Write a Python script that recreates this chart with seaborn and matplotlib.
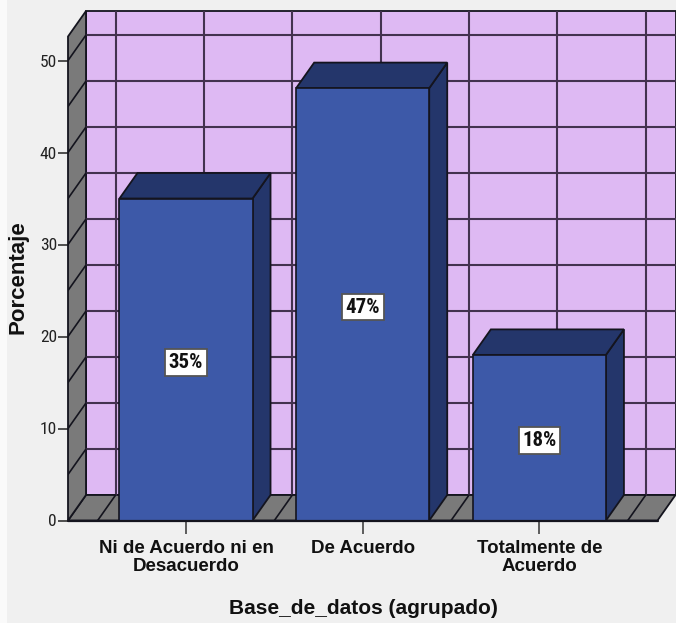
import matplotlib
matplotlib.use("Agg")
import matplotlib.pyplot as plt
from matplotlib.patches import Polygon, Rectangle
import numpy as np
import pandas as pd
import seaborn as sns

categories = ["Ni de Acuerdo ni en\nDesacuerdo", "De Acuerdo", "Totalmente de\nAcuerdo"]
percentages = [35, 47, 18]
value_labels = ["35%", "47%", "18%"]
y_ticks = [0, 10, 20, 30, 40, 50]

WIDTH, HEIGHT = 676, 623
BG = "#f0f0f0"
WALL = "#deb9f3"
GREY = "#7a7a7a"
FRONT = "#3d59a8"
DARK = "#24366b"
EDGE = "#14141e"
GRID = "#43324f"
NARROW = ["Roboto Condensed", "DejaVu Sans"]

sns.set_theme(style="white")
plt.rcParams["font.family"] = ["Liberation Sans", "DejaVu Sans"]

fig = plt.figure(figsize=(WIDTH / 100, HEIGHT / 100), dpi=100, facecolor=BG)
fig.add_artist(Rectangle((0, 0), 7 / WIDTH, 1, transform=fig.transFigure, fc="#fafafa", ec="none"))

# Axes frame in pixels: front-left corner to the far corner of the box
left, right, bottom, top = 68, 675.5, 520.5, 11
ax = fig.add_axes([left / WIDTH, 1 - bottom / HEIGHT, (right - left) / WIDTH, (bottom - top) / HEIGHT])
ax.set_facecolor("none")

df = pd.DataFrame({"grupo": categories, "pct": percentages})
sns.barplot(data=df, x="grupo", y="pct", order=categories, color=FRONT, saturation=1,
            width=0.753, edgecolor=EDGE, linewidth=1.2, ax=ax, zorder=4)

# Data scale: one category is 176.7 px, one percentage point 9.2 px
ax.set_xlim((left - 186) / 176.7, (right - 186) / 176.7)
ax.set_ylim(0, (bottom - top) / 9.2)
xmin, xmax = ax.get_xlim()
ymax = ax.get_ylim()[1]
dx, dy = 18 / 176.7, 25.5 / 9.2
front_right = xmax - dx

def face(points, color, z):
    ax.add_patch(Polygon(points, closed=True, fc=color, ec=EDGE, lw=1.3, zorder=z, clip_on=False))

face([(xmin + dx, dy), (xmax, dy), (xmax, ymax), (xmin + dx, ymax)], WALL, 1)
face([(xmin, 0), (front_right, 0), (xmax, dy), (xmin + dx, dy)], GREY, 1)
face([(xmin, 0), (xmin + dx, dy), (xmin + dx, ymax), (xmin, ymax - dy)], GREY, 1)

# Grid on the back wall, continued over the floor and the left side
for v in np.arange(5, 55, 5):
    ax.plot([xmin + dx, xmax], [v + dy, v + dy], color=GRID, lw=1.5, zorder=2)
    ax.plot([xmin, xmin + dx], [v, v + dy], color=EDGE, lw=1.2, zorder=2)
for c in np.arange(-0.5, 3.0, 0.5):
    ax.plot([c + dx, c + dx], [dy, ymax], color=GRID, lw=1.5, zorder=2)
    ax.plot([c, c + dx], [0, dy], color=EDGE, lw=1.2, zorder=2)

# Side and top faces built from each bar
for bar, value, text in zip(ax.patches, percentages, value_labels):
    x0, x1 = bar.get_x(), bar.get_x() + bar.get_width()
    h = bar.get_height()
    face([(x1, 0), (x1 + dx, dy), (x1 + dx, h + dy), (x1, h)], DARK, 3)
    face([(x0, h), (x1, h), (x1 + dx, h + dy), (x0 + dx, h + dy)], DARK, 3)
    ax.text((x0 + x1) / 2, value / 2 - 0.3, text, ha="center", va="center", fontsize=15,
            fontweight="bold", color="#111111", zorder=6, family=NARROW,
            bbox=dict(boxstyle="square,pad=0.18", fc="white", ec="#555555", lw=1.3))

ax.plot([xmin, front_right], [0, 0], color=EDGE, lw=1.6, zorder=5, clip_on=False)

for s in ax.spines.values():
    s.set_visible(False)
ax.set_yticks(y_ticks)
ax.tick_params(axis="y", left=True, length=7, width=1.1, color="#222222", pad=1,
               labelsize=12.5, labelcolor="#222222")
ax.tick_params(axis="x", bottom=True, length=9, width=1.1, color="#333333", pad=5)
for lab in ax.get_yticklabels():
    lab.set_family(NARROW)
for lab in ax.get_xticklabels():
    lab.set_fontsize(13.5)
    lab.set_fontweight("bold")
    lab.set_color("#111111")
    lab.set_linespacing(1.05)

ax.set_xlabel("Base_de_datos (agrupado)", fontsize=15, fontweight="bold", color="#111111")
ax.set_ylabel("Porcentaje", fontsize=16, fontweight="bold", color="#111111")
ax.xaxis.set_label_coords((363 - left) / (right - left), -(608 - bottom) / (bottom - top), ax.transAxes)
ax.yaxis.set_label_coords(-(left - 18) / (right - left), (bottom - 277) / (bottom - top), ax.transAxes)
ax.xaxis.label.set_va("center")
ax.yaxis.label.set_va("center")

fig.savefig("out.png", dpi=100, facecolor=BG)
